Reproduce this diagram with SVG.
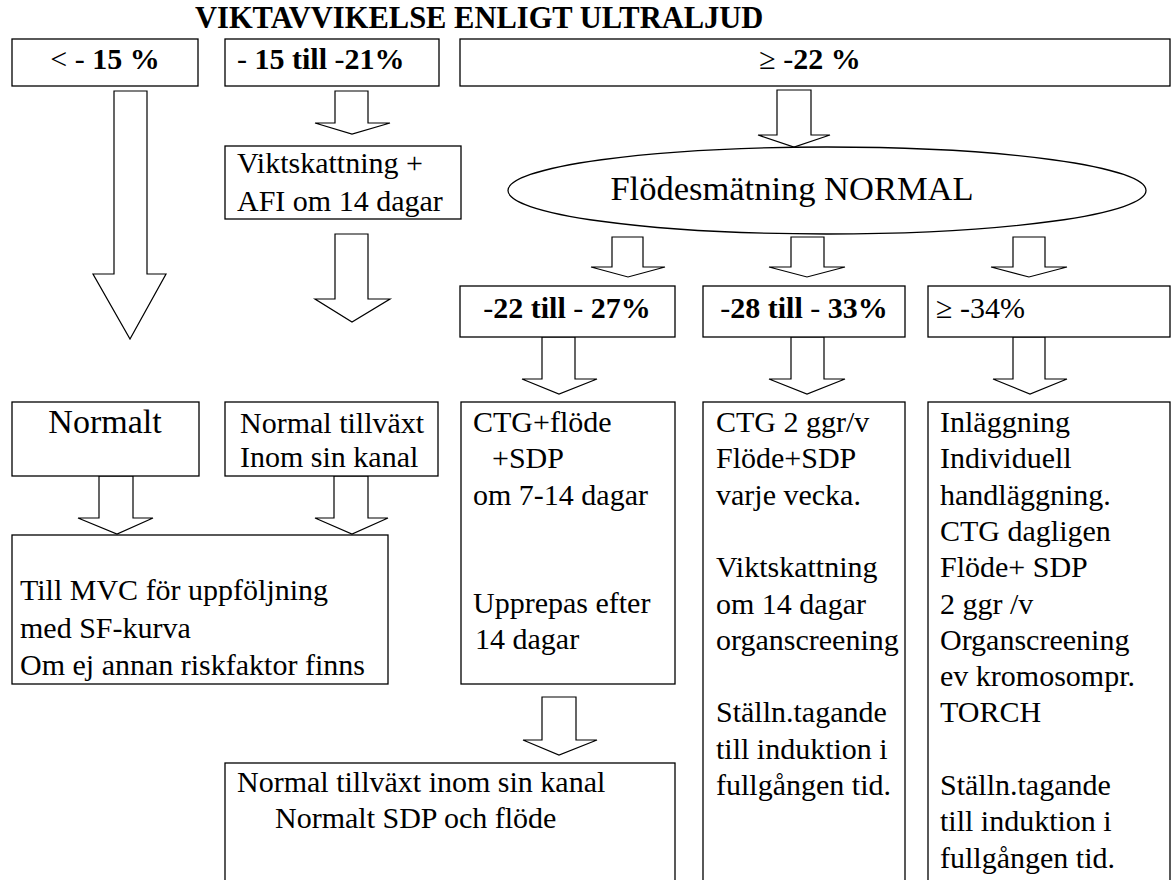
<svg xmlns="http://www.w3.org/2000/svg" width="1175" height="880" viewBox="0 0 1175 880">
<style>
.box{fill:#fff;stroke:#000;stroke-width:1.3}
.arr{fill:#fff;stroke:#000;stroke-width:1.2;stroke-linejoin:miter}
text{font-family:"Liberation Serif","Times New Roman",serif;font-size:30px;fill:#000}
.b{font-weight:bold}
.m{text-anchor:middle}
</style>
<rect width="1175" height="880" fill="#fff"/>
<text id="title" class="b" x="195" y="28" style="font-size:30.5px">VIKTAVVIKELSE ENLIGT ULTRALJUD</text>

<g id="connectors">
<polygon class="arr" points="114,91 147,91 147,274 166,274 130,339 93,274 114,274"/>
<polygon class="arr" points="335,91 368,91 368,123 390,123 352,134 315,123 335,123"/>
<polygon class="arr" points="777,90 811,90 811,135 830,135 794,147 758,135 777,135"/>
<polygon class="arr" points="335,234 368,234 368,299 390,299 352,322 315,299 335,299"/>
<polygon class="arr" points="612,237 643,237 643,267 665,267 628,277 591,267 612,267"/>
<polygon class="arr" points="791,237 824,237 824,267 845,267 807,277 769,267 791,267"/>
<polygon class="arr" points="1013,237 1045,237 1045,267 1067,267 1029,277 991,267 1013,267"/>
<polygon class="arr" points="542,337 575,337 575,379 597,379 559,394 522,379 542,379"/>
<polygon class="arr" points="791,337 824,337 824,379 845,379 807,394 769,379 791,379"/>
<polygon class="arr" points="1013,337 1045,337 1045,379 1067,379 1030,394 993,379 1013,379"/>
<polygon class="arr" points="99,476 133,476 133,518 153,518 117,534 78,518 99,518"/>
<polygon class="arr" points="334,476 368,476 368,518 388,518 352,534 315,518 334,518"/>
<polygon class="arr" points="542,524 577,524 577,566 595,566 559,582 523,566 542,566"/>
<polygon class="arr" points="542,697 576,697 576,740 597,740 559,755 523,740 542,740"/>
</g>

<g id="n1"><rect class="box" x="12" y="39" width="186" height="47"/>
<text class="m" x="105" y="69">&lt; - <tspan class="b">15 %</tspan></text></g>

<g id="n2"><rect class="box" x="225" y="39" width="214" height="47"/>
<text x="237" y="69">- <tspan class="b">15 till</tspan> -<tspan class="b">21%</tspan></text></g>

<g id="n3"><rect class="box" x="460" y="39" width="710" height="47"/>
<text class="m" x="810" y="69">≥ -<tspan class="b">22 %</tspan></text></g>

<g id="n4"><rect class="box" x="225" y="146" width="236" height="73"/>
<text x="237" y="173">Viktskattning +</text>
<text x="237" y="211">AFI om 14 dagar</text></g>

<g id="n5"><ellipse class="box" cx="827" cy="190.5" rx="319" ry="43.5"/>
<text class="m" x="792" y="200" style="font-size:34.5px">Flödesmätning NORMAL</text></g>

<g id="n6"><rect class="box" x="460" y="286" width="215" height="51"/>
<text class="m" x="567" y="318">-<tspan class="b">22 till</tspan> - <tspan class="b">27%</tspan></text></g>

<g id="n7"><rect class="box" x="703" y="286" width="202" height="51"/>
<text class="m" x="804" y="318">-<tspan class="b">28 till</tspan> - <tspan class="b">33%</tspan></text></g>

<g id="n8"><rect class="box" x="928" y="286" width="242" height="51"/>
<text x="936" y="318">≥ -34%</text></g>

<g id="n9"><rect class="box" x="12" y="402" width="187" height="74"/>
<text class="m" x="105" y="433" style="font-size:34px">Normalt</text></g>

<g id="n10"><rect class="box" x="225" y="402" width="213" height="74"/>
<text x="240" y="433">Normal tillväxt</text>
<text x="240" y="467">Inom sin kanal</text></g>

<g id="n11"><rect class="box" x="461" y="402" width="214" height="282"/>
<text x="473" y="432">CTG+flöde</text>
<text x="492" y="468">+SDP</text>
<text x="473" y="505">om 7-14 dagar</text>
<text x="473" y="613">Upprepas efter</text>
<text x="475" y="649">14 dagar</text></g>

<g id="n12"><rect class="box" x="703" y="402" width="202" height="482"/>
<text x="716" y="432">CTG 2 ggr/v</text>
<text x="716" y="468.3">Flöde+SDP</text>
<text x="716" y="504.6">varje vecka.</text>
<text x="716" y="577.2">Viktskattning</text>
<text x="716" y="613.5">om 14 dagar</text>
<text x="716" y="649.8">organscreening</text>
<text x="716" y="722.4">Ställn.tagande</text>
<text x="716" y="758.7">till induktion i</text>
<text x="716" y="795">fullgången tid.</text></g>

<g id="n13"><rect class="box" x="928" y="402" width="242" height="482"/>
<text x="940" y="432">Inläggning</text>
<text x="940" y="468.3">Individuell</text>
<text x="940" y="504.6">handläggning.</text>
<text x="940" y="540.9">CTG dagligen</text>
<text x="940" y="577.2">Flöde+ SDP</text>
<text x="940" y="613.5">2 ggr /v</text>
<text x="940" y="649.8">Organscreening</text>
<text x="940" y="686.1">ev kromosompr.</text>
<text x="940" y="722.4">TORCH</text>
<text x="940" y="795">Ställn.tagande</text>
<text x="940" y="831.3">till induktion i</text>
<text x="940" y="867.6">fullgången tid.</text></g>

<g id="n14"><rect class="box" x="12" y="535" width="376" height="149"/>
<text x="20" y="600">Till MVC för uppföljning</text>
<text x="20" y="637.5">med SF-kurva</text>
<text x="20" y="675">Om ej annan riskfaktor finns</text></g>

<g id="n15"><rect class="box" x="225" y="763" width="450" height="120"/>
<text x="237" y="792">Normal tillväxt inom sin kanal</text>
<text x="275" y="828">Normalt SDP och flöde</text></g>
</svg>
